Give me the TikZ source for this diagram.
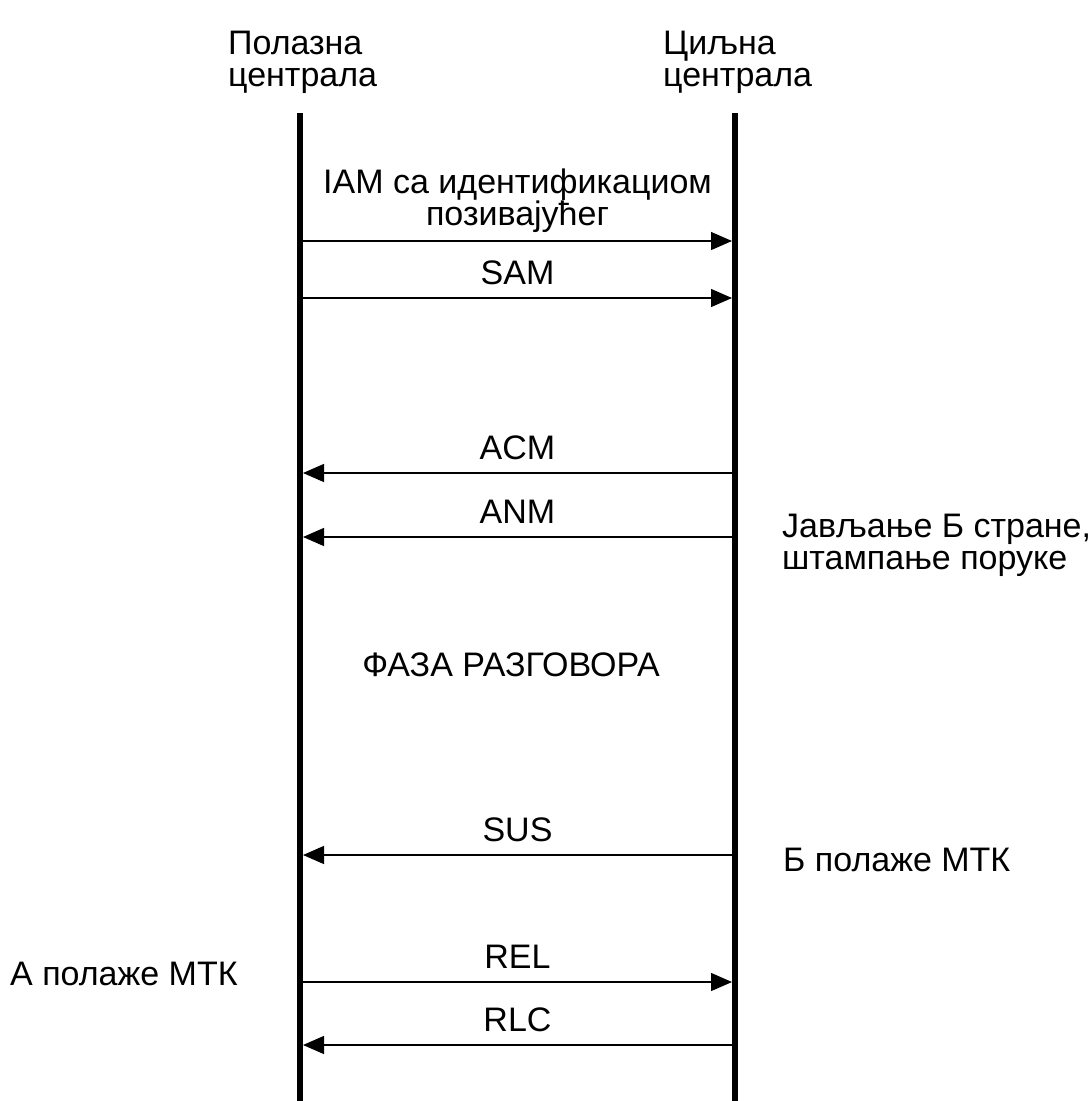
\documentclass[tikz,border=0pt]{standalone}
\usepackage{fontspec}
\setmainfont{Liberation Sans}
\usetikzlibrary{arrows.meta}

\begin{document}
\begin{tikzpicture}[x=1pt,y=-1pt,
					font=\fontsize{34}{32}\selectfont,
					lifeline/.style={line width=6pt},
					message/.style={
									line width=1.3pt,
									-{Triangle[length=21pt,width=18pt]}
									},
					msglabel/.style={anchor=base,inner sep=0pt,yshift=14pt},
					note/.style={inner sep=0pt,align=left}
                     ]
\useasboundingbox (0,0) rectangle (1091,1101);
% exchanges
\coordinate (orig-top) at (300,113);
\coordinate (orig-bot) at (300,1101);
\coordinate (dest-top) at (735,113);
\coordinate (dest-bot) at (735,1101);
\node[note,anchor=north west] (orig) at (228,31) {Полазна\\централа};
\node[note,anchor=north west] (dest) at (663,31) {Циљна\\централа};
\draw[lifeline] (orig-top) -- (orig-bot);
\draw[lifeline] (dest-top) -- (dest-bot);
% message ends
\foreach \msg/\y in {iam/241,sam/298,acm/473,anm/537,sus/855,rel/982,rlc/1045}
	{\coordinate (\msg-l) at (303,\y);
	 \coordinate (\msg-r) at (732,\y);}
\draw[message] (iam-l) -- node[anchor=south,inner sep=0pt,yshift=8pt,align=center] (iam) {IAM са идентификациом\\позивајућег} (iam-r);
\draw[message] (sam-l) -- node[msglabel] (sam) {SAM} (sam-r);
\draw[message] (acm-r) -- node[msglabel] (acm) {ACM} (acm-l);
\draw[message] (anm-r) -- node[msglabel] (anm) {ANM} (anm-l);
\node[note,anchor=north west] (answer) at (782,514) {Јављање Б стране,\\штампање поруке};
\node[anchor=base] (phase) at (511,676) {ФАЗА РАЗГОВОРА};
\draw[message] (sus-r) -- node[msglabel] (sus) {SUS} (sus-l);
\node[note,anchor=base west] (bhook) at (783,871) {Б полаже МТК};
\draw[message] (rel-l) -- node[msglabel] (rel) {REL} (rel-r);
\node[note,anchor=base west] (ahook) at (10,985) {А полаже МТК};
\draw[message] (rlc-r) -- node[msglabel] (rlc) {RLC} (rlc-l);
\end{tikzpicture}
\end{document}
